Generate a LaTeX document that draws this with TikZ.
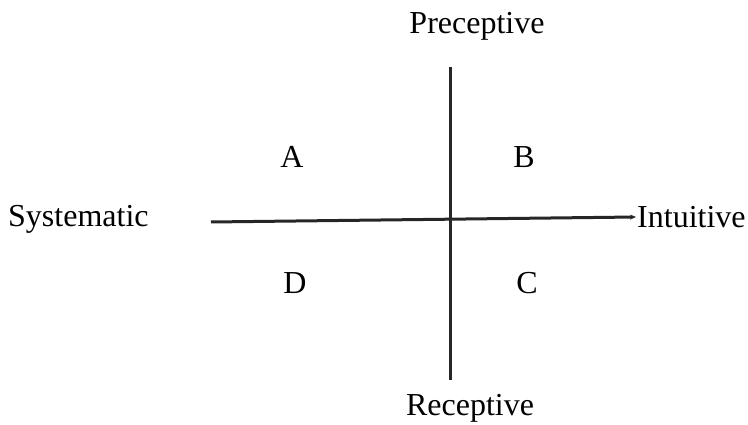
\documentclass[tikz,border=0pt]{standalone}
\usepackage{fontspec}
\setmainfont{Liberation Serif}
\usetikzlibrary{arrows.meta}
\tikzset{
  lbl/.style={font=\fontsize{32}{37}\selectfont, inner sep=0pt},
  axis/.style={line width=3pt, draw=black!85}
}
\begin{document}
\begin{tikzpicture}[x=1pt,y=-1pt]
\useasboundingbox (0,0) rectangle (748,425);
\node[lbl] (pre) at (477,26) {Preceptive};
\node[lbl] (rec) at (470,408) {Receptive};
\node[lbl, anchor=west] (sys) at (8,219) {Systematic};
\node[lbl, anchor=west] (int) at (637,217) {Intuitive};
\node[lbl] (a) at (292,157) {A};
\node[lbl] (b) at (524,157) {B};
\node[lbl] (d) at (295,283) {D};
\node[lbl] (c) at (527,283) {C};
\coordinate (vt) at (450,67);
\coordinate (vb) at (450,380);
\coordinate (hl) at (211,222);
\coordinate (hr) at (636,217);
\draw[axis] (vt) -- (vb);
\draw[axis, -{Stealth[length=6pt,width=5pt]}] (hl) -- (hr);
\end{tikzpicture}
\end{document}
